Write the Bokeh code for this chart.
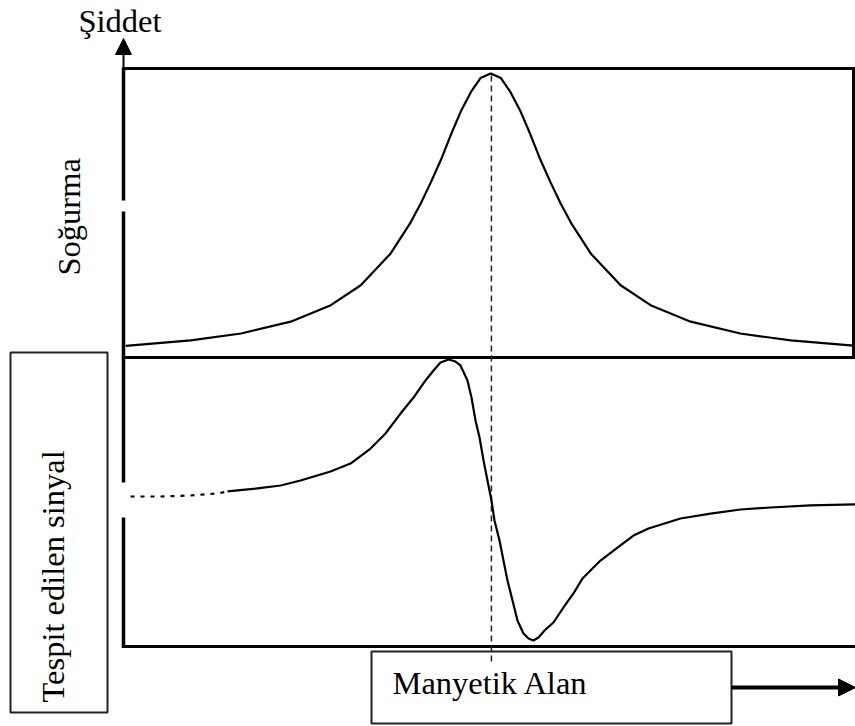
import math
from bokeh.plotting import figure
from bokeh.models import Range1d, Label, Arrow, NormalHead
from bokeh.embed import file_html
from bokeh.resources import INLINE

# ---------------- data ----------------
# upper panel: absorption curve (field in arbitrary units 0..100, absorption 0..1)
abs_field = [0.3, 9.2, 16.1, 22.9, 28.4, 32.5, 36.6, 39.3, 40.7, 42.1, 43.5, 44.8,
             46.2, 47.6, 48.9, 50.3, 51.7, 53.0, 54.4, 55.8, 57.1, 58.5, 59.9,
             61.3, 64.0, 68.1, 72.2, 77.7, 84.5, 91.4, 100.0]
absorption = [0.040, 0.059, 0.083, 0.124, 0.181, 0.250, 0.360, 0.466, 0.532, 0.606,
              0.685, 0.768, 0.851, 0.919, 0.967, 0.983, 0.967, 0.919, 0.851, 0.768,
              0.685, 0.606, 0.532, 0.466, 0.360, 0.250, 0.181, 0.124, 0.083, 0.059,
              0.041]

# lower panel: detected signal (first derivative), signal -1..1
sig_field = [0.96, 5.07, 9.18, 12.88, 14.25, 18.08, 21.51, 24.25, 28.36, 31.10,
             33.84, 35.89, 37.95, 39.73, 41.37, 42.47, 43.42, 44.52, 45.48, 46.16,
             47.12, 47.67, 48.22, 48.77, 49.32, 49.86, 50.41, 50.82, 51.51, 52.05,
             52.60, 53.29, 53.97, 54.79, 55.48, 56.16, 56.85, 57.67, 58.90, 60.27,
             61.64, 62.88, 63.97, 65.34, 67.67, 69.86, 71.92, 76.30, 80.41, 84.52,
             88.63, 94.11, 100.27]
signal = [0.038, 0.038, 0.045, 0.059, 0.073, 0.093, 0.114, 0.149, 0.211, 0.266,
          0.370, 0.474, 0.612, 0.723, 0.841, 0.910, 0.965, 0.986, 0.972, 0.945,
          0.841, 0.723, 0.564, 0.446, 0.287, 0.149, 0.010, -0.128, -0.266, -0.405,
          -0.543, -0.682, -0.820, -0.910, -0.945, -0.958, -0.938, -0.889, -0.834, -0.730,
          -0.633, -0.529, -0.474, -0.405, -0.315, -0.232, -0.183, -0.114, -0.080, -0.052,
          -0.038, -0.024, -0.017]
n_dotted = 5          # the first points are drawn dotted
resonance_field = 50.4

title_y = "Şiddet"
label_abs = "Soğurma"
label_sig = "Tespit edilen sinyal"
label_x = "Manyetik Alan"

# ---------------- layout (reference pixel geometry) ----------------
W, H = 855, 726
PX_X0, PX_X1 = 123, 853          # field 0 .. 100
PX_TOP, PX_MID, PX_BOT = 68, 357, 646
REF_L, REF_R, REF_T, REF_B = 0, 855, 0, 726


def fx(px):
    return (px - PX_X0) / (PX_X1 - PX_X0) * 100.0


def ay(py):
    return (PX_MID - py) / (PX_MID - PX_TOP)


def sy(py):
    return 1.0 - 2.0 * (py - PX_MID) / (PX_BOT - PX_MID)


p = figure(width=W, height=H,
           x_range=Range1d(fx(REF_L), fx(REF_R)),
           y_range=Range1d(ay(REF_B), ay(REF_T)),
           output_backend="svg", toolbar_location=None,
           min_border=0, min_border_left=0, min_border_right=0,
           min_border_top=0, min_border_bottom=0,
           x_axis_type=None, y_axis_type=None)
p.extra_y_ranges = {"sig": Range1d(sy(REF_B), sy(REF_T))}
p.grid.visible = False
p.outline_line_color = None
p.background_fill_color = "white"
p.border_fill_color = "white"

INK = "black"


def seg(x0, y0, x1, y1, w=3, dash="solid", color=INK):
    p.segment(x0=[fx(x0)], y0=[ay(y0)], x1=[fx(x1)], y1=[ay(y1)],
              line_width=w, line_color=color, line_dash=dash, line_cap="butt")


# label boxes
p.quad(left=[fx(10)], right=[fx(107)], top=[ay(352)], bottom=[ay(712)],
       fill_color=None, line_color="#222222", line_width=2)
p.quad(left=[fx(371)], right=[fx(731)], top=[ay(651)], bottom=[ay(723)],
       fill_color=None, line_color="#222222", line_width=2)

# panel frame
seg(PX_X0, PX_TOP, REF_R, PX_TOP, 3)
seg(PX_X1, PX_TOP, PX_X1, PX_MID + 1, 3)
seg(PX_X0 - 1, PX_MID, REF_R, PX_MID, 3)
seg(PX_X0 - 1, PX_BOT, REF_R, PX_BOT, 3)
# left (intensity) axis with breaks
seg(PX_X0, PX_TOP - 1, PX_X0, 200, 3.5)
seg(PX_X0, 211, PX_X0, 482, 3.5)
seg(PX_X0, 517, PX_X0, PX_BOT + 1.5, 3.5)

# resonance marker
p.segment(x0=[resonance_field], y0=[ay(75)], x1=[resonance_field], y1=[ay(662)],
          line_width=1.5, line_color="#222222", line_dash="6 4")

# curves
p.line(abs_field, absorption, line_width=2.2, line_color=INK)
p.line(sig_field[:n_dotted], signal[:n_dotted], y_range_name="sig",
       line_width=2.2, line_color=INK, line_dash="4 6")
p.line(sig_field[n_dotted - 1:], signal[n_dotted - 1:], y_range_name="sig",
       line_width=2.2, line_color=INK)

# arrows
p.add_layout(Arrow(end=NormalHead(size=16, fill_color=INK, line_color=INK),
                   x_start=fx(PX_X0), y_start=ay(PX_TOP), x_end=fx(PX_X0), y_end=ay(38),
                   line_width=2, line_color=INK))
p.add_layout(Arrow(end=NormalHead(size=17, fill_color=INK, line_color=INK),
                   x_start=fx(731), y_start=ay(687), x_end=fx(REF_R), y_end=ay(687),
                   line_width=4, line_color=INK))

FONT = "Liberation Serif"
FS = "32.5px"
MID = 10   # distance from the alphabetic baseline to the text middle line (px)


def lab(text, x, y, angle=0.0):
    p.add_layout(Label(x=fx(x), y=ay(y), text=text, angle=angle,
                       text_font=FONT, text_font_size=FS, text_color="black",
                       text_align="left", text_baseline="middle"))


lab(title_y, 78, 30 - MID)
lab(label_abs, 78 - MID, 275, math.pi / 2)
lab(label_sig, 62 - MID, 702, math.pi / 2)
lab(label_x, 392, 692 - MID)

open("out.html", "w").write(file_html(p, INLINE))
